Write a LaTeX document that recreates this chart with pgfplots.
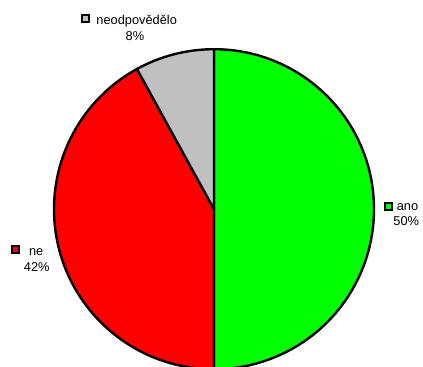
\documentclass[border=0pt]{standalone}
\usepackage{pgfplots}
\usepackage{pgfplotstable}
\pgfplotsset{compat=1.18}
\usepackage{fontspec}
\setmainfont{Liberation Sans}
\definecolor{cano}{HTML}{00FF00}
\definecolor{cne}{HTML}{FF0000}
\definecolor{cneo}{HTML}{C0C0C0}

\pgfplotstableread{
label value
ano 50
ne 42
neodpovedelo 8
}\piedata

\begin{document}
\begin{tikzpicture}
\pgfplotstablegetelem{0}{value}\of\piedata \let\va\pgfplotsretval
\pgfplotstablegetelem{1}{value}\of\piedata \let\vb\pgfplotsretval
\pgfplotstablegetelem{2}{value}\of\piedata \let\vc\pgfplotsretval
\pgfmathsetmacro\aA{90}
\pgfmathsetmacro\aB{90-3.6*\va}
\pgfmathsetmacro\aC{\aB-3.6*\vb}
\pgfmathsetmacro\aD{\aC-3.6*\vc}
\begin{axis}[name=ax, x=1bp, y=1bp, xmin=0, xmax=423, ymin=0, ymax=367, hide axis, clip=true]
\filldraw[fill=cano, draw=black, line width=2.4bp, line join=round] (axis cs:214,157.8) -- ++(\aA:160bp) arc[start angle=\aA, end angle=\aB, radius=160bp] -- cycle;
\filldraw[fill=cne, draw=black, line width=2.4bp, line join=round] (axis cs:214,157.8) -- ++(\aB:160bp) arc[start angle=\aB, end angle=\aC, radius=160bp] -- cycle;
\filldraw[fill=cneo, draw=black, line width=2.4bp, line join=round] (axis cs:214,157.8) -- ++(\aC:160bp) arc[start angle=\aC, end angle=\aD, radius=160bp] -- cycle;
% labels
\begin{scope}[every node/.style={anchor=base, inner sep=0pt, font=\fontsize{12.8bp}{15bp}\selectfont}]
\node at (axis cs:136.7,342.7) {neodpovědělo};
\node at (axis cs:135,327) {8\%};
\node at (axis cs:407.5,156.3) {ano};
\node at (axis cs:406.3,141.5) {50\%};
\node at (axis cs:36.2,111.3) {ne};
\node at (axis cs:36.7,95.3) {42\%};
\end{scope}
\filldraw[fill=cneo, draw=black, line width=2bp] (axis cs:81.5,344.5) rectangle (axis cs:88.5,351.5);
\filldraw[fill=cano, draw=black, line width=2bp] (axis cs:384.8,157.3) rectangle (axis cs:391.8,164.3);
\filldraw[fill=cne, draw=black, line width=2bp] (axis cs:11.7,113.5) rectangle (axis cs:18.7,120.5);
\end{axis}
\pgfresetboundingbox
\path (ax.south west) rectangle (ax.north east);
\end{tikzpicture}
\end{document}
